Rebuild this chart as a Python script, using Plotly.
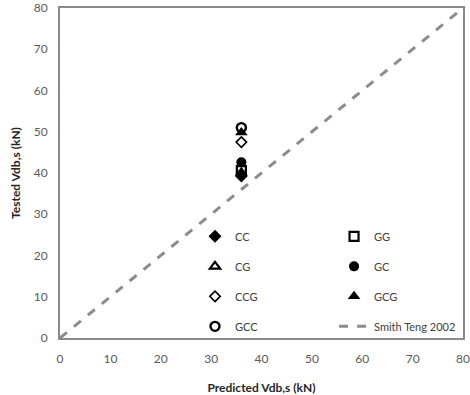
import plotly.graph_objects as go

# ---- data ----
series_names = ["CC", "CG", "CCG", "GCC", "GG", "GC", "GCG"]
predicted = [36.0, 36.0, 36.0, 36.0, 36.0, 36.0, 36.0]
tested = [39.3, 40.0, 47.5, 51.0, 40.6, 42.6, 49.8]

smith_x = [0, 80]
smith_y = [0, 80]
smith_name = "Smith Teng 2002"

x_ticks = [0, 10, 20, 30, 40, 50, 60, 70, 80]
y_ticks = [0, 10, 20, 30, 40, 50, 60, 70, 80]

# ---- styles ----
styles = {
    "CC":  dict(symbol="diamond", size=10, line_width=0, legend="legend", rank=1),
    "CG":  dict(symbol="triangle-up-open", size=9, line_width=2.2, legend="legend", rank=2),
    "CCG": dict(symbol="diamond-open", size=8, line_width=1.6, legend="legend", rank=3),
    "GCC": dict(symbol="circle-open", size=9, line_width=2.4, legend="legend", rank=4),
    "GG":  dict(symbol="square-open", size=9, line_width=2.2, legend="legend2", rank=1),
    "GC":  dict(symbol="circle", size=10, line_width=0, legend="legend2", rank=2),
    "GCG": dict(symbol="triangle-up", size=11, line_width=0, legend="legend2", rank=3),
}

FONT = "Lato"
fig = go.Figure()

fig.add_trace(go.Scatter(
    x=smith_x, y=smith_y, mode="lines", name=smith_name,
    line=dict(color="#8c8c8c", width=3, dash="dash"),
    legend="legend2", legendrank=4, legendgroup="smith",
))

draw_order = ["GG", "CG", "CC", "GC", "CCG", "GCG", "GCC"]
for nm in draw_order:
    i = series_names.index(nm)
    st = styles[nm]
    fig.add_trace(go.Scatter(
        x=[predicted[i]], y=[tested[i]], mode="markers", name=nm,
        marker=dict(symbol=st["symbol"], size=st["size"], color="black",
                    line=dict(color="black", width=st["line_width"])),
        legend=st["legend"], legendrank=st["rank"], legendgroup=nm,
    ))

axis_common = dict(
    range=[0, 80], showgrid=False, zeroline=False, showline=True, mirror=True,
    linecolor="#8a8a8a", linewidth=2, ticks="", tickfont=dict(family=FONT, size=12, color="#595959"),
    fixedrange=True, automargin=False,
)

legend_font = dict(family=FONT, size=11, color="#404040")

fig.update_layout(
    width=470, height=395,
    margin=dict(l=60, r=7, t=8, b=57),
    paper_bgcolor="white", plot_bgcolor="white",
    font=dict(family=FONT, size=11, color="#333333"),
    xaxis=dict(axis_common, tickvals=x_ticks, ticklabelstandoff=9,
               title=dict(text="<b>Predicted Vdb,s (kN)</b>", font=dict(family=FONT, size=12, color="#262626"), standoff=18)),
    yaxis=dict(axis_common, tickvals=y_ticks, ticklabelstandoff=8,
               title=dict(text="<b>Tested Vdb,s (kN)</b>", font=dict(family=FONT, size=12, color="#262626"), standoff=10)),
    legend=dict(x=0.335, y=0.352, xanchor="left", yanchor="top", bgcolor="rgba(0,0,0,0)",
                borderwidth=0, tracegroupgap=11, font=legend_font),
    legend2=dict(x=0.68, y=0.352, xanchor="left", yanchor="top", bgcolor="rgba(0,0,0,0)",
                 borderwidth=0, tracegroupgap=11, font=legend_font),
    showlegend=True,
)

fig.write_html("out.html")
